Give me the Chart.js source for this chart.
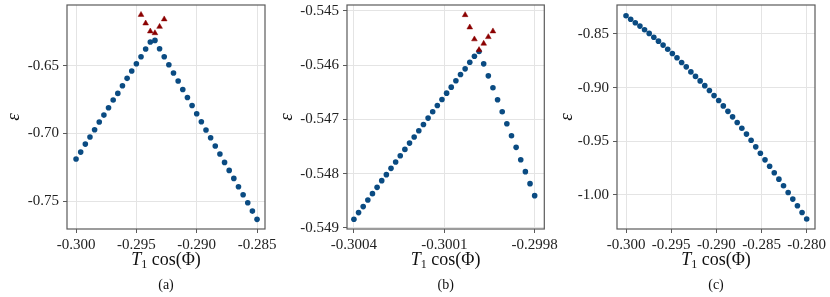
<!DOCTYPE html>
<html>
<head>
<meta charset="utf-8">
<script src="https://cdn.jsdelivr.net/npm/chart.js@4.4.0/dist/chart.umd.min.js"></script>
<style>
  html, body { margin: 0; padding: 0; background: #fff; }
  #wrap { position: relative; width: 830px; height: 297px; overflow: hidden; }
  canvas { position: absolute; top: 0; }
</style>
</head>
<body>
<div id="wrap">
  <canvas id="chartA" width="277" height="297" style="left:0px"></canvas>
  <canvas id="chartB" width="290" height="297" style="left:277px"></canvas>
  <canvas id="chartC" width="276" height="297" style="left:554px"></canvas>
</div>
<script>
// --- panel (a) ---
const xA = [-0.300000, -0.299615, -0.299231, -0.298846, -0.298462, -0.298077, -0.297692, -0.297308, -0.296923, -0.296538,
            -0.296154, -0.295769, -0.295385, -0.295000, -0.294615, -0.294231, -0.293846, -0.293462, -0.293077, -0.292692,
            -0.292308, -0.291923, -0.291538, -0.291154, -0.290769, -0.290385, -0.290000, -0.289615, -0.289231, -0.288846,
            -0.288462, -0.288077, -0.287692, -0.287308, -0.286923, -0.286538, -0.286154, -0.285769, -0.285385, -0.285000];
const yA = [-0.7188, -0.7137, -0.7078, -0.7026, -0.6972, -0.6915, -0.6864, -0.6810, -0.6753, -0.6704,
            -0.6647, -0.6593, -0.6539, -0.6485, -0.6434, -0.6377, -0.6325, -0.6313, -0.6375, -0.6434,
            -0.6493, -0.6554, -0.6613, -0.6675, -0.6734, -0.6793, -0.6854, -0.6913, -0.6974, -0.7031,
            -0.7092, -0.7151, -0.7213, -0.7272, -0.7331, -0.7392, -0.7451, -0.7510, -0.7572, -0.7633];
const xTriA = [-0.294615, -0.294231, -0.293846, -0.293462, -0.293077, -0.292692];
const yTriA = [-0.6124, -0.6187, -0.6246, -0.6259, -0.6212, -0.6157];
const xTicksA = [-0.300, -0.295, -0.290, -0.285];
const yTicksA = [-0.65, -0.70, -0.75];

// --- panel (b) ---
const xB = [-0.3004000, -0.3003846, -0.3003692, -0.3003538, -0.3003385, -0.3003231, -0.3003077, -0.3002923, -0.3002769, -0.3002615,
            -0.3002462, -0.3002308, -0.3002154, -0.3002000, -0.3001846, -0.3001692, -0.3001538, -0.3001385, -0.3001231, -0.3001077,
            -0.3000923, -0.3000769, -0.3000615, -0.3000462, -0.3000308, -0.3000154, -0.3000000, -0.2999846, -0.2999692, -0.2999538,
            -0.2999385, -0.2999231, -0.2999077, -0.2998923, -0.2998769, -0.2998615, -0.2998462, -0.2998308, -0.2998154, -0.2998000];
const yB = [-0.548840, -0.548718, -0.548607, -0.548485, -0.548368, -0.548252, -0.548129, -0.548018, -0.547902, -0.547785,
            -0.547669, -0.547552, -0.547436, -0.547325, -0.547209, -0.547092, -0.546975, -0.546859, -0.546742, -0.546632,
            -0.546515, -0.546405, -0.546288, -0.546172, -0.546067, -0.545945, -0.545834, -0.545748, -0.545975, -0.546196,
            -0.546417, -0.546638, -0.546859, -0.547080, -0.547301, -0.547515, -0.547742, -0.547963, -0.548184, -0.548405];
const xTriB = [-0.3000308, -0.3000154, -0.3000000, -0.2999846, -0.2999692, -0.2999538, -0.2999385];
const yTriB = [-0.545074, -0.545301, -0.545521, -0.545718, -0.545601, -0.545479, -0.545374];
const xTicksB = [-0.3004, -0.3001, -0.2998];
const yTicksB = [-0.545, -0.546, -0.547, -0.548, -0.549];

// --- panel (c) ---
const xC = [-0.300000, -0.299487, -0.298974, -0.298462, -0.297949, -0.297436, -0.296923, -0.296410, -0.295897, -0.295385,
            -0.294872, -0.294359, -0.293846, -0.293333, -0.292821, -0.292308, -0.291795, -0.291282, -0.290769, -0.290256,
            -0.289744, -0.289231, -0.288718, -0.288205, -0.287692, -0.287179, -0.286667, -0.286154, -0.285641, -0.285128,
            -0.284615, -0.284103, -0.283590, -0.283077, -0.282564, -0.282051, -0.281538, -0.281026, -0.280513, -0.280000];
const yC = [-0.8330, -0.8363, -0.8395, -0.8427, -0.8461, -0.8495, -0.8531, -0.8567, -0.8604, -0.8643,
            -0.8682, -0.8722, -0.8766, -0.8807, -0.8854, -0.8896, -0.8938, -0.8982, -0.9028, -0.9075,
            -0.9121, -0.9171, -0.9222, -0.9273, -0.9326, -0.9380, -0.9434, -0.9492, -0.9553, -0.9613,
            -0.9674, -0.9734, -0.9795, -0.9854, -0.9915, -0.9978, -1.0040, -1.0102, -1.0165, -1.0226];
const xTicksC = [-0.300, -0.295, -0.290, -0.285, -0.280];
const yTicksC = [-0.85, -0.90, -0.95, -1.00];

const BLUE = '#0a4b82';
const RED = '#8b0000';
const GRID = '#e4e4e4';
const FRAME = '#5a5a5a';
const SERIF = '"Liberation Serif", "DejaVu Serif", serif';

const zip = (xs, ys) => xs.map((x, i) => ({ x: x, y: ys[i] }));

// frame box, axis titles and caption
const framePlugin = {
  id: 'frame',
  beforeDatasetsDraw(chart) {
    const a = chart.chartArea, ctx = chart.ctx;
    ctx.save();
    ctx.strokeStyle = FRAME;
    ctx.lineWidth = 1.2;
    ctx.strokeRect(a.left, a.top, a.right - a.left, a.bottom - a.top);
    ctx.restore();
  },
  afterDraw(chart, args, o) {
    const a = chart.chartArea, ctx = chart.ctx;
    const cx = (a.left + a.right) / 2;
    ctx.save();
    ctx.fillStyle = '#111';
    ctx.textAlign = 'left';
    ctx.textBaseline = 'alphabetic';
    // x title: T_1 cos(Φ)
    ctx.font = 'italic 18px ' + SERIF;
    const wT = ctx.measureText('T').width;
    ctx.font = '12px ' + SERIF;
    const w1 = ctx.measureText('1').width;
    ctx.font = '18px ' + SERIF;
    const wR = ctx.measureText(' cos(Φ)').width;
    let x = cx - (wT + w1 + wR) / 2;
    const by = 265;
    ctx.font = 'italic 18px ' + SERIF;
    ctx.fillText('T', x, by);
    x += wT;
    ctx.font = '12px ' + SERIF;
    ctx.fillText('1', x, by + 3);
    x += w1;
    ctx.font = '18px ' + SERIF;
    ctx.fillText(' cos(Φ)', x, by);
    // caption
    ctx.font = '14px ' + SERIF;
    ctx.textAlign = 'center';
    ctx.textBaseline = 'middle';
    ctx.fillText(o.caption, cx, 285);
    // y title
    ctx.translate(o.yTitleX, (a.top + a.bottom) / 2);
    ctx.rotate(-Math.PI / 2);
    ctx.font = 'italic 19px ' + SERIF;
    ctx.fillText('ε', 0, 0);
    ctx.restore();
  }
};

function makePanel(id, p) {
  const tickFont = { family: SERIF, size: 15 };
  new Chart(document.getElementById(id), {
    type: 'scatter',
    data: {
      datasets: [
        {
          data: zip(p.xTri, p.yTri),
          pointStyle: 'triangle',
          pointRadius: 3.3,
          backgroundColor: RED,
          borderColor: RED,
          borderWidth: 0.5
        },
        {
          data: zip(p.x, p.y),
          pointStyle: 'circle',
          pointRadius: 2.8,
          backgroundColor: BLUE,
          borderColor: BLUE,
          borderWidth: 0
        }
      ]
    },
    options: {
      responsive: false,
      animation: false,
      layout: { padding: { left: 0, right: p.padRight, top: 5, bottom: 0 } },
      plugins: {
        legend: { display: false },
        tooltip: { enabled: false },
        frame: { caption: p.caption, yTitleX: p.yTitleX }
      },
      scales: {
        x: {
          type: 'linear',
          min: p.xMin, max: p.xMax,
          border: { display: false },
          grid: { color: GRID, lineWidth: 1, tickColor: FRAME, tickLength: 4 },
          ticks: { font: tickFont, color: '#222', padding: 3, maxRotation: 0,
                   callback: v => v.toFixed(p.xDec) },
          afterBuildTicks: s => { s.ticks = p.xTicks.map(v => ({ value: v })); },
          afterFit: s => { s.height = 68; s.paddingLeft = 0; s.paddingRight = 0; }
        },
        y: {
          type: 'linear',
          min: p.yMin, max: p.yMax,
          border: { display: false },
          grid: { color: GRID, lineWidth: 1, tickColor: FRAME, tickLength: 4 },
          ticks: { font: tickFont, color: '#222', padding: 4,
                   callback: v => v.toFixed(p.yDec) },
          afterBuildTicks: s => { s.ticks = p.yTicks.map(v => ({ value: v })); },
          afterFit: s => { s.width = p.yWidth; s.paddingTop = 0; s.paddingBottom = 0; }
        }
      }
    },
    plugins: [framePlugin]
  });
}

makePanel('chartA', {
  x: xA, y: yA, xTri: xTriA, yTri: yTriA, xTicks: xTicksA, yTicks: yTicksA,
  xMin: -0.30075, xMax: -0.28434, yMin: -0.7704, yMax: -0.6052,
  xDec: 3, yDec: 2, yWidth: 67, padRight: 12, yTitleX: 14, caption: '(a)'
});
makePanel('chartB', {
  x: xB, y: yB, xTri: xTriB, yTri: yTriB, xTicks: xTicksB, yTicks: yTicksB,
  xMin: -0.300423, xMax: -0.299768, yMin: -0.54902, yMax: -0.54489,
  xDec: 4, yDec: 3, yWidth: 70, padRight: 22.7, yTitleX: 10, caption: '(b)'
});
makePanel('chartC', {
  x: xC, y: yC, xTri: [], yTri: [], xTicks: xTicksC, yTicks: yTicksC,
  xMin: -0.301, xMax: -0.27908, yMin: -1.0319, yMax: -0.823,
  xDec: 3, yDec: 2, yWidth: 63, padRight: 15, yTitleX: 13, caption: '(c)'
});
</script>
</body>
</html>
